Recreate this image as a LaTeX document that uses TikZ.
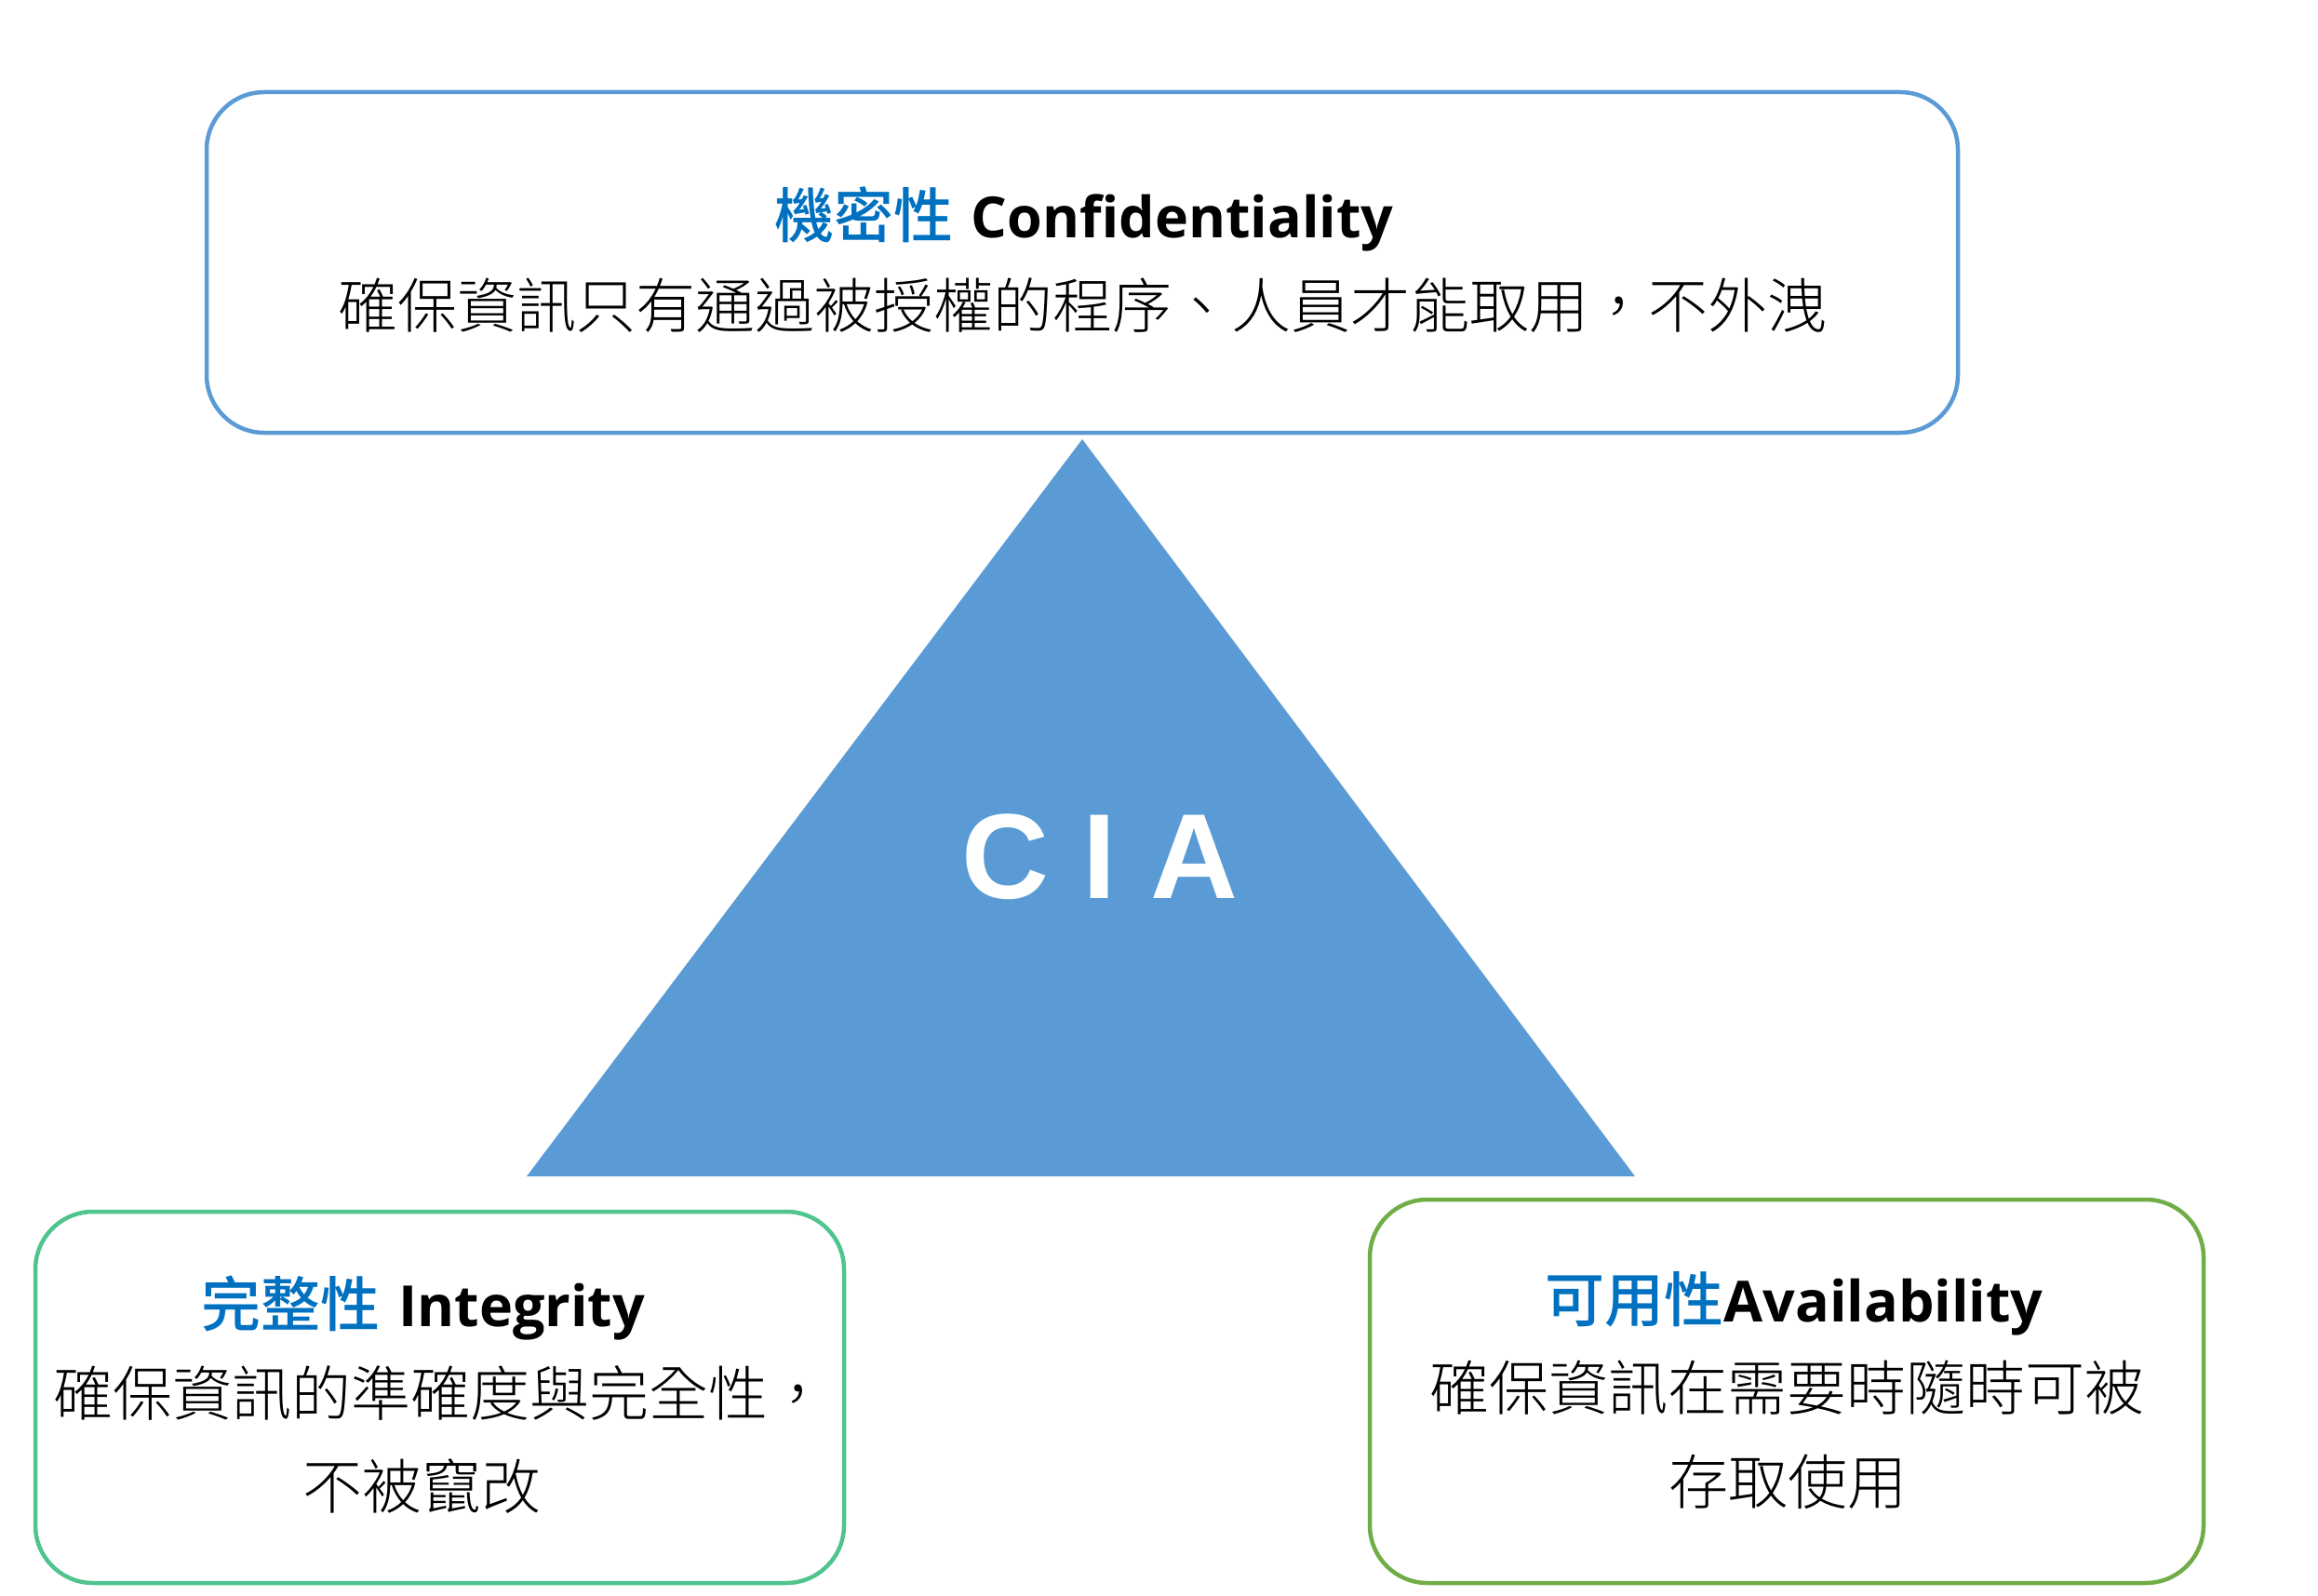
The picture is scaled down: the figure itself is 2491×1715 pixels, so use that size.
\documentclass[tikz,border=0pt]{standalone}
\usepackage{fontspec}
\IfFontExistsTF{Noto Sans CJK TC Light}
  {\newfontfamily\cjk{Noto Sans CJK TC Light}}
  {\newfontfamily\cjk{Noto Sans CJK TC}}
\IfFontExistsTF{Noto Sans CJK TC Medium}
  {\newfontfamily\cjkb{Noto Sans CJK TC Medium}\newcommand\cjkw{\relax}}
  {\newfontfamily\cjkb{Noto Sans CJK TC}\newcommand\cjkw{\bfseries}}
\IfFontExistsTF{Open Sans SemiBold}
  {\newfontfamily\latin{Open Sans SemiBold}\newcommand\latinw{\relax}}
  {\newfontfamily\latin{Open Sans}\newcommand\latinw{\bfseries}}
\newfontfamily\arialb{Liberation Sans}
\definecolor{cblue}{HTML}{5B9BD5}
\definecolor{tblue}{HTML}{0070C0}
\definecolor{igreen}{HTML}{50C48D}
\definecolor{agreen}{HTML}{70AD47}
\begin{document}
\begin{tikzpicture}[x=1pt,y=-1pt,
  box/.style={draw, line width=4.5pt, rounded corners=62pt, fill=white, inner sep=0pt},
  body/.style={anchor=base, inner sep=0pt, font=\cjk\fontsize{64}{64}\selectfont},
  ttl/.style={anchor=base, inner sep=0pt, font=\fontsize{64}{64}\selectfont},
]
\newcommand\tc[1]{{\cjkb\cjkw\color{tblue}#1}}
\newcommand\tl[1]{{\latin\latinw\fontsize{61}{61}\selectfont #1}}
\useasboundingbox (0,0) rectangle (2491,1715);
% top box
\node[box, draw=cblue, minimum width=1882pt, minimum height=366pt] (conf) at (1163,282) {};
\node[ttl] (conft) at (1165,255) {\tc{機密性} \tl{Confidentiality}};
\node[body] (confd) at (1163,352) {確保資訊只有通過被授權的程序、人員才能取用，不外洩};
% triangle
\coordinate (apex) at (1163,472);
\coordinate (bl) at (566,1264);
\coordinate (br) at (1757,1264);
\fill[cblue] (apex) -- (bl) -- (br) -- cycle;
\node[anchor=base, inner sep=0pt, text=white, font=\arialb\bfseries\fontsize{130}{130}\selectfont] (cia) at (1182,965) {C I A};
% left box
\node[box, draw=igreen, minimum width=869pt, minimum height=399pt] (integ) at (472.5,1501.5) {};
\node[ttl] (integt) at (455,1425) {\tc{完整性} \tl{Integrity}};
\node[body] (integd1) at (473,1521) {確保資訊的準確度與完全性，};
\node[body] (integd2) at (453,1621) {不被竄改};
% right box
\node[box, draw=agreen, minimum width=896pt, minimum height=412pt] (avail) at (1920,1495) {};
\node[ttl] (availt) at (1928,1420) {\tc{可用性}\tl{Availability}};
\node[body] (availd1) at (1920,1515) {確保資訊在需要時隨時可被};
\node[body] (availd2) at (1921,1616) {存取使用};
\end{tikzpicture}
\end{document}
